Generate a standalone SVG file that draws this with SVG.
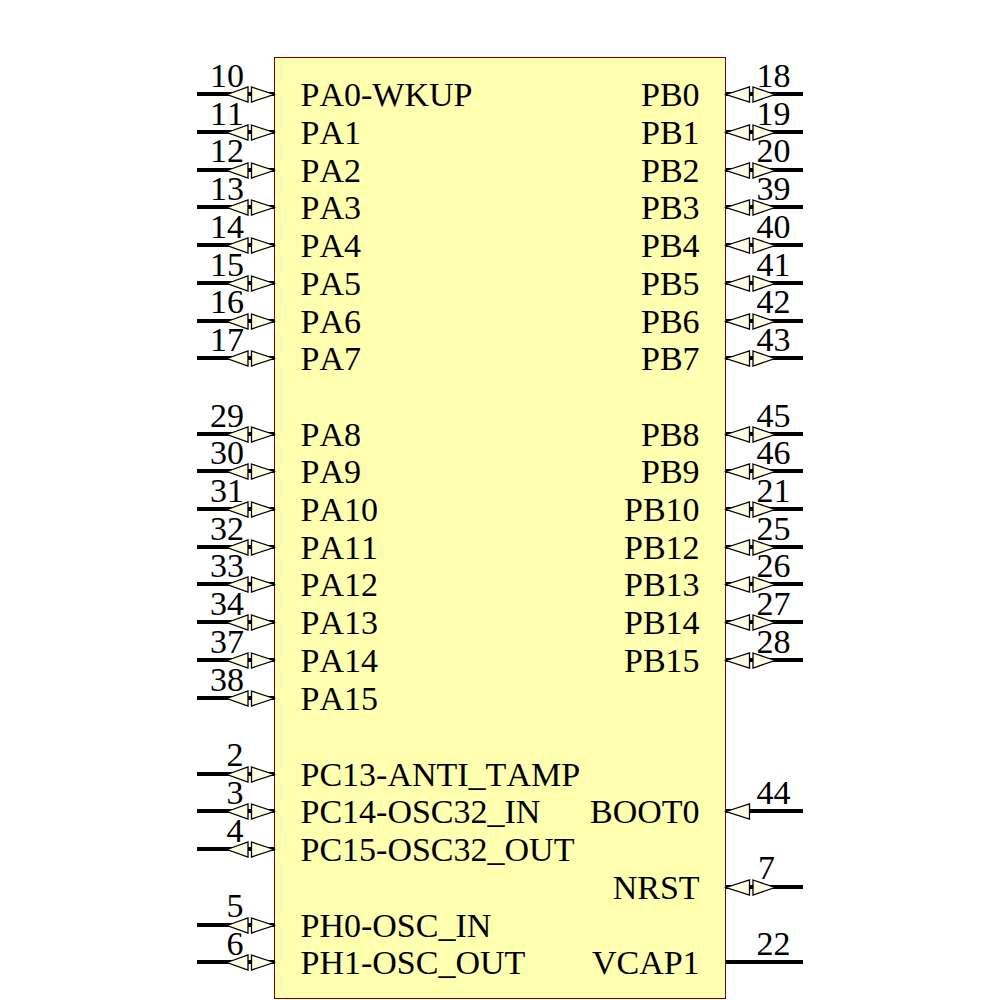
<svg xmlns="http://www.w3.org/2000/svg" width="1000" height="1000" viewBox="0 0 1000 1000">
<style>
text{font-family:"Liberation Serif","Times New Roman",serif;font-size:34px;fill:#000;font-kerning:none}
.r{text-anchor:end}
.n{text-anchor:middle}
.w{stroke:#000;stroke-width:4;fill:none}
.a{fill:#ffffe6;stroke:#000;stroke-width:1.3}
</style>
<defs>
<g id="lp"><line class="w" x1="197" y1="0" x2="275" y2="0"/><polygon class="a" points="227,0.500 248,-7 248,8"/><polygon class="a" points="251.500,-7 274,0.500 251.500,8"/></g>
<g id="rp"><line class="w" x1="726" y1="0" x2="803" y2="0"/><polygon class="a" points="726,0.500 749.500,-7 749.500,8"/><polygon class="a" points="753,-7 775,0.500 753,8"/></g>
<g id="rs"><line class="w" x1="726" y1="0" x2="803" y2="0"/><polygon class="a" points="726,0.500 749.500,-7 749.500,8"/></g>
</defs>
<g id="chip"><rect x="274.500" y="57.500" width="451" height="941" fill="#ffffb0" stroke="#800000" stroke-width="1"/></g>
<g id="connectors">
<use href="#lp" y="94"/><use href="#lp" y="132"/><use href="#lp" y="170"/><use href="#lp" y="207"/><use href="#lp" y="245"/><use href="#lp" y="283"/><use href="#lp" y="321"/><use href="#lp" y="358"/>
<use href="#lp" y="434"/><use href="#lp" y="471"/><use href="#lp" y="509"/><use href="#lp" y="547"/><use href="#lp" y="584"/><use href="#lp" y="622"/><use href="#lp" y="660"/><use href="#lp" y="698"/>
<use href="#lp" y="774"/><use href="#lp" y="811"/><use href="#lp" y="849"/><use href="#lp" y="925"/><use href="#lp" y="962"/>
<use href="#rp" y="94"/><use href="#rp" y="132"/><use href="#rp" y="170"/><use href="#rp" y="207"/><use href="#rp" y="245"/><use href="#rp" y="283"/><use href="#rp" y="321"/><use href="#rp" y="358"/>
<use href="#rp" y="434"/><use href="#rp" y="471"/><use href="#rp" y="509"/><use href="#rp" y="547"/><use href="#rp" y="584"/><use href="#rp" y="622"/><use href="#rp" y="660"/>
<use href="#rs" y="811"/><use href="#rp" y="887"/><line class="w" x1="726" y1="962" x2="803" y2="962"/>
</g>
<g id="left-labels" transform="translate(0,0.5)">
<text x="300.500" y="105">PA0-WKUP</text><text x="300.500" y="143">PA1</text><text x="300.500" y="181">PA2</text><text x="300.500" y="218">PA3</text><text x="300.500" y="256">PA4</text><text x="300.500" y="294">PA5</text><text x="300.500" y="332">PA6</text><text x="300.500" y="369">PA7</text>
<text x="300.500" y="445">PA8</text><text x="300.500" y="482">PA9</text><text x="300.500" y="520">PA10</text><text x="300.500" y="558">PA11</text><text x="300.500" y="595">PA12</text><text x="300.500" y="633">PA13</text><text x="300.500" y="671">PA14</text><text x="300.500" y="709">PA15</text>
<text x="300.500" y="785">PC13-ANTI_TAMP</text><text x="300.500" y="822">PC14-OSC32_IN</text><text x="300.500" y="860">PC15-OSC32_OUT</text><text x="300.500" y="936">PH0-OSC_IN</text><text x="300.500" y="973">PH1-OSC_OUT</text>
</g>
<g id="right-labels" transform="translate(0.6,0.5)">
<text class="r" x="699" y="105">PB0</text><text class="r" x="699" y="143">PB1</text><text class="r" x="699" y="181">PB2</text><text class="r" x="699" y="218">PB3</text><text class="r" x="699" y="256">PB4</text><text class="r" x="699" y="294">PB5</text><text class="r" x="699" y="332">PB6</text><text class="r" x="699" y="369">PB7</text>
<text class="r" x="699" y="445">PB8</text><text class="r" x="699" y="482">PB9</text><text class="r" x="699" y="520">PB10</text><text class="r" x="699" y="558">PB12</text><text class="r" x="699" y="595">PB13</text><text class="r" x="699" y="633">PB14</text><text class="r" x="699" y="671">PB15</text>
<text class="r" x="699" y="822">BOOT0</text><text class="r" x="699" y="898">NRST</text><text class="r" x="699" y="973">VCAP1</text>
</g>
<g id="pin-numbers-left">
<text class="n" x="227" y="87">10</text><text class="n" x="227" y="125">11</text><text class="n" x="227" y="162">12</text><text class="n" x="227" y="200">13</text><text class="n" x="227" y="238">14</text><text class="n" x="227" y="276">15</text><text class="n" x="227" y="313">16</text><text class="n" x="227" y="351">17</text>
<text class="n" x="227" y="427">29</text><text class="n" x="227" y="464">30</text><text class="n" x="227" y="502">31</text><text class="n" x="227" y="540">32</text><text class="n" x="227" y="577">33</text><text class="n" x="227" y="615">34</text><text class="n" x="227" y="653">37</text><text class="n" x="227" y="691">38</text>
<text class="n" x="235" y="766">2</text><text class="n" x="235" y="804">3</text><text class="n" x="235" y="842">4</text><text class="n" x="235" y="917">5</text><text class="n" x="235" y="955">6</text>
</g>
<g id="pin-numbers-right" transform="translate(0.6,0)">
<text class="n" x="773" y="87">18</text><text class="n" x="773" y="125">19</text><text class="n" x="773" y="162">20</text><text class="n" x="773" y="200">39</text><text class="n" x="773" y="238">40</text><text class="n" x="773" y="276">41</text><text class="n" x="773" y="313">42</text><text class="n" x="773" y="351">43</text>
<text class="n" x="773" y="427">45</text><text class="n" x="773" y="464">46</text><text class="n" x="773" y="502">21</text><text class="n" x="773" y="540">25</text><text class="n" x="773" y="577">26</text><text class="n" x="773" y="615">27</text><text class="n" x="773" y="653">28</text>
<text class="n" x="773" y="804">44</text><text class="n" x="766" y="879">7</text><text class="n" x="773" y="955">22</text>
</g>
</svg>
